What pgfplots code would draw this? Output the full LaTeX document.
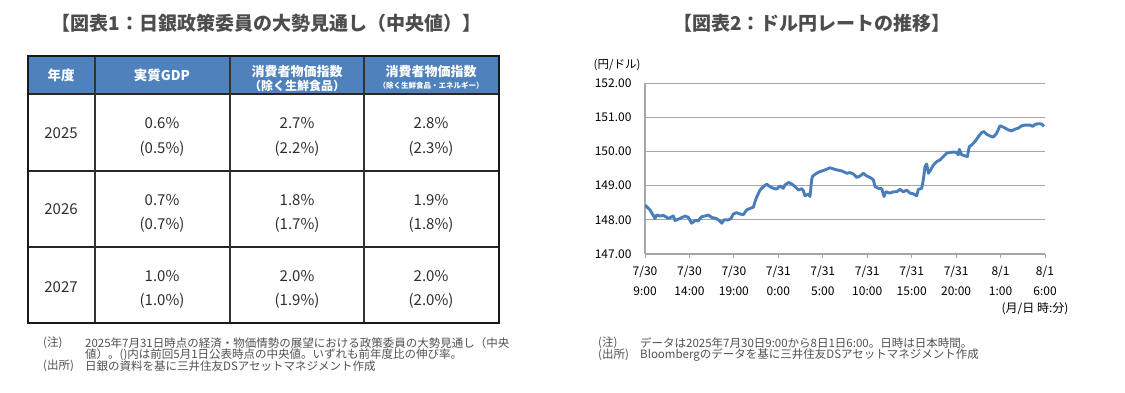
\documentclass[border=0pt]{standalone}
\usepackage{fontspec}
\setmainfont{Noto Sans CJK JP}
\usepackage{pgfplots}
\pgfplotsset{compat=1.18}
\definecolor{hdr}{RGB}{79,129,189}
\definecolor{ttl}{RGB}{77,77,77}
\definecolor{note}{RGB}{80,80,80}
\definecolor{body}{RGB}{45,45,45}
\definecolor{grd}{RGB}{166,166,166}
\definecolor{usd}{RGB}{74,126,187}
\newcommand{\fs}[1]{\fontsize{#1}{#1}\selectfont}
\begin{document}
\begin{tikzpicture}[x=1pt,y=1pt]
\path[use as bounding box] (0,0) rectangle (1125,392);
% ---------- Left: table ----------
\node[text=ttl,font=\fs{19}\bfseries] at (266.5,369) {【図表1：日銀政策委員の大勢見通し（中央値）】};
\fill[hdr] (28,336) rectangle (499,298);
\draw[line width=1.1pt,black!85] (28,298) -- (499,298);
\draw[line width=1.1pt,black!85] (28,221) -- (499,221);
\draw[line width=1.1pt,black!85] (28,145) -- (499,145);
\foreach \x in {95,230,364} {\draw[line width=1.1pt,black!80] (\x,336) -- (\x,69);}
\draw[line width=1.3pt,black!90] (28,336) rectangle (499,69);
% header
\node[text=white,font=\fs{13.5}\bfseries] at (61,317) {年度};
\node[text=white,font=\fs{13.5}\bfseries] at (162,317) {実質GDP};
\node[text=white,font=\fs{13}\bfseries] at (297,320) {消費者物価指数};
\node[text=white,font=\fs{12}\bfseries] at (297,306) {（除く生鮮食品）};
\node[text=white,font=\fs{13}\bfseries] at (431,320) {消費者物価指数};
\node[text=white,font=\fs{7.5}\bfseries] at (431,306) {（除く生鮮食品・エネルギー）};
% body
\begin{scope}[every node/.style={text=body,font=\fs{15}}]
\node at (61,259) {2025};
\node at (162,269) {0.6\%}; \node at (162,243) {(0.5\%)};
\node at (297,269) {2.7\%}; \node at (297,243) {(2.2\%)};
\node at (431,269) {2.8\%}; \node at (431,243) {(2.3\%)};
\node at (61,183) {2026};
\node at (162,192) {0.7\%}; \node at (162,167) {(0.7\%)};
\node at (297,192) {1.8\%}; \node at (297,167) {(1.7\%)};
\node at (431,192) {1.9\%}; \node at (431,167) {(1.8\%)};
\node at (61,105) {2027};
\node at (162,116) {1.0\%}; \node at (162,91) {(1.0\%)};
\node at (297,116) {2.0\%}; \node at (297,91) {(1.9\%)};
\node at (431,116) {2.0\%}; \node at (431,91) {(2.0\%)};
\end{scope}
% notes left
\begin{scope}[every node/.style={text=note,font=\fs{11.5},anchor=west,inner sep=0pt}]
\node at (43,49) {(注)};
\node at (85,49) {2025年7月31日時点の経済・物価情勢の展望における政策委員の大勢見通し（中央};
\node at (85,37) {値）。()内は前回5月1日公表時点の中央値。いずれも前年度比の伸び率。};
\node at (43,26) {(出所)};
\node at (85,26) {日銀の資料を基に三井住友DSアセットマネジメント作成};
\end{scope}
% ---------- Right: chart ----------
\node[text=ttl,font=\fs{19}\bfseries] at (812,369) {【図表2：ドル円レートの推移】};
\node[font=\fs{11.5},text=black] at (617,327) {(円/ドル)};
\begin{axis}[
  at={(645pt,138pt)}, anchor=south west,
  width=400pt, height=171pt, scale only axis,
  xmin=0, xmax=45, ymin=147, ymax=152,
  axis x line*=bottom, axis y line*=left,
  axis line style={grd,line width=1.3pt},
  ymajorgrids, grid style={grd,line width=0.9pt},
  ytick={147,148,...,152},
  xtick={0,5,...,45},
  xticklabels={{7/30\\9:00},{7/30\\14:00},{7/30\\19:00},{7/31\\0:00},{7/31\\5:00},{7/31\\10:00},{7/31\\15:00},{7/31\\20:00},{8/1\\1:00},{8/1\\6:00}},
  xtick align=outside, ytick align=outside,
  major tick length=4pt,
  xtick style={grd,line width=0.9pt},
  ytick style={draw=none},
  yticklabel style={/pgf/number format/fixed,/pgf/number format/fixed zerofill,/pgf/number format/precision=2,/pgf/number format/assume math mode=true,xshift=-6pt},
  tick label style={font=\fs{12},text=black},
  xticklabel style={align=center,font=\fontsize{12}{20}\selectfont,yshift=-4pt},
]
\addplot[usd, line width=2.9pt, line join=round] coordinates {
(0,148.43) (0.56,148.29) (1.13,148.04) (1.31,148.14) (1.69,148.11) (2.06,148.13)
(2.63,148.04) (3.19,148.11) (3.38,147.98) (3.94,148.04) (4.5,148.11) (4.88,148.07)
(5.25,147.90) (5.63,147.98) (6.0,147.97) (6.19,148.04) (6.38,148.09) (6.75,148.11)
(7.13,148.14) (7.5,148.07) (7.99,148.04) (8.36,147.98) (8.63,147.90) (8.89,148.00)
(9.38,148.00) (9.64,148.03) (9.94,148.17) (10.31,148.21) (10.69,148.17) (11.06,148.15)
(11.44,148.29) (11.81,148.33) (12.19,148.37) (12.38,148.53) (12.56,148.66) (12.94,148.87)
(13.31,148.97) (13.69,149.04) (14.06,148.97) (14.44,148.92) (14.81,148.90) (15.19,148.99)
(15.56,148.92) (15.75,149.02) (16.13,149.09) (16.5,149.05) (16.88,148.97) (17.25,148.87)
(17.63,148.91) (17.81,148.85) (18.0,148.70) (18.38,148.75) (18.56,148.68) (18.75,149.17)
(18.86,149.28) (19.31,149.36) (19.69,149.41) (20.06,149.44) (20.44,149.48) (20.81,149.52)
(21.19,149.49) (21.56,149.46) (22.13,149.43) (22.69,149.36) (23.06,149.38) (23.44,149.34)
(23.81,149.24) (24.19,149.28) (24.56,149.36) (24.94,149.28) (25.31,149.24) (25.69,149.17)
(25.88,148.97) (26.25,148.92) (26.63,148.91) (26.89,148.68) (27.11,148.82) (27.56,148.78)
(27.94,148.82) (28.31,148.82) (28.69,148.89) (29.06,148.82) (29.44,148.87) (29.81,148.78)
(30.19,148.76) (30.56,148.70) (30.75,148.89) (31.13,148.92) (31.31,149.17) (31.5,149.56)
(31.69,149.63) (31.88,149.36) (32.14,149.46) (32.44,149.60) (32.81,149.70) (33.19,149.75)
(33.56,149.85) (33.94,149.95) (34.31,149.97) (34.69,149.98) (35.06,149.97) (35.25,149.90)
(35.36,150.06) (35.63,149.90) (36.0,149.87) (36.26,149.85) (36.49,150.14) (36.75,150.19)
(37.13,150.29) (37.5,150.43) (37.88,150.55) (38.14,150.58) (38.44,150.50) (38.81,150.45)
(39.19,150.42) (39.56,150.53) (39.94,150.75) (40.31,150.71) (40.88,150.63) (41.25,150.60)
(41.63,150.65) (42.0,150.68) (42.38,150.75) (42.75,150.77) (43.31,150.77) (43.61,150.73)
(43.88,150.79) (44.25,150.81) (44.63,150.80) (44.89,150.73)
};
\end{axis}
\node[font=\fs{12},text=black,anchor=east] at (1072,83) {(月/日 時:分)};
% notes right
\begin{scope}[every node/.style={text=note,font=\fs{11.5},anchor=west,inner sep=0pt}]
\node at (598,49) {(注)};
\node at (640,49) {データは2025年7月30日9:00から8日1日6:00。日時は日本時間。};
\node at (598,37) {(出所)};
\node at (640,37) {Bloombergのデータを基に三井住友DSアセットマネジメント作成};
\end{scope}
\end{tikzpicture}
\end{document}
